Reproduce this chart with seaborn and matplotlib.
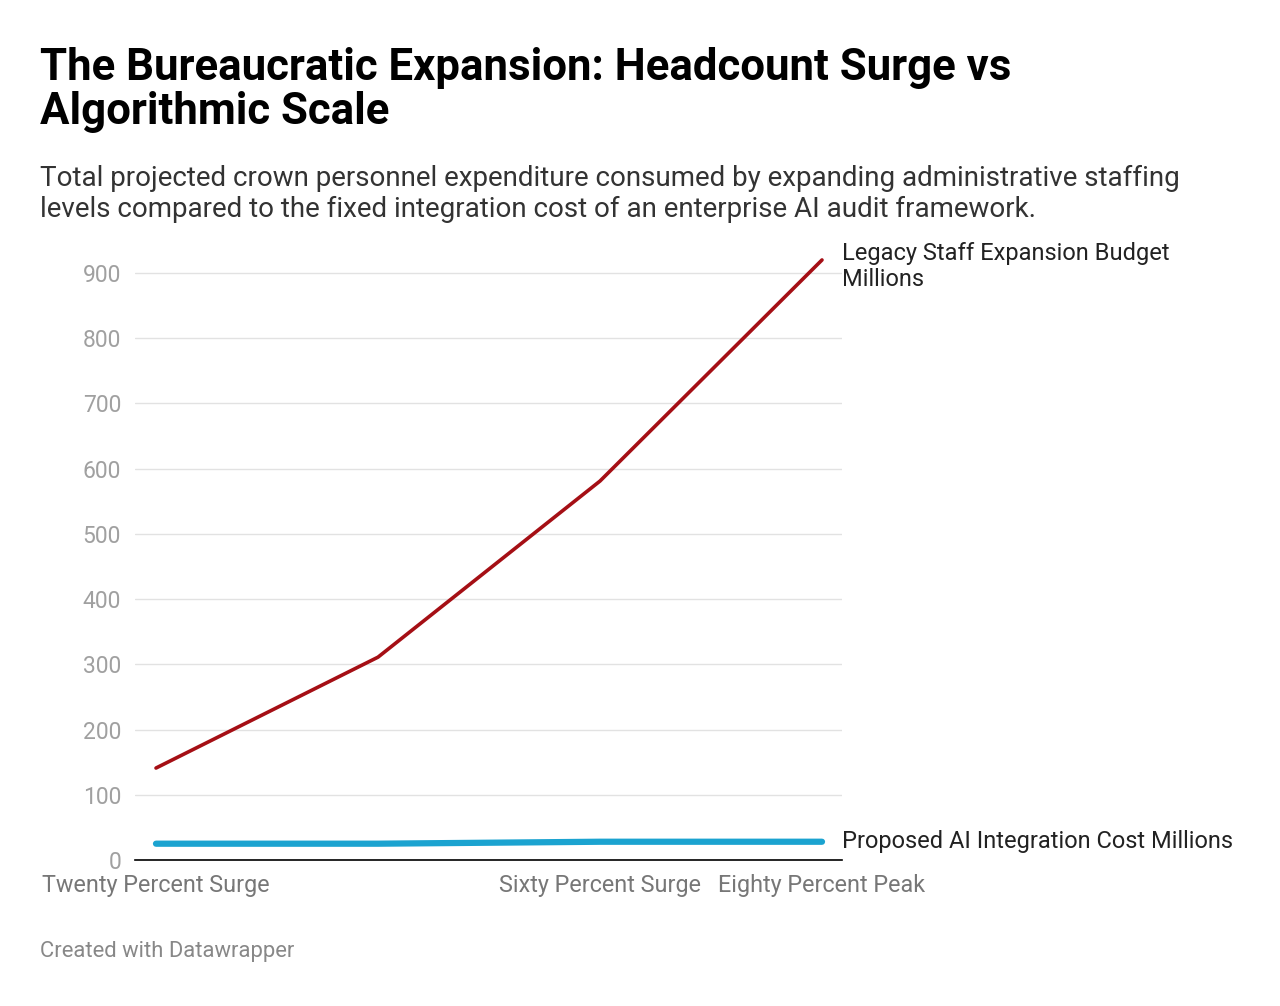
import matplotlib
matplotlib.use("Agg")
import matplotlib.pyplot as plt
import seaborn as sns
import pandas as pd

categories = ["Twenty Percent Surge", "Forty Percent Surge", "Sixty Percent Surge", "Eighty Percent Peak"]
legacy = [141, 311, 581, 920]
ai_cost = [25, 25, 28, 28]
tick_labels = ["Twenty Percent Surge", "", "Sixty Percent Surge", "Eighty Percent Peak"]

sns.set_style("white")
plt.rcParams['font.family'] = ['Roboto', 'DejaVu Sans']

df = pd.DataFrame({"x": list(range(4)) * 2,
                   "value": legacy + ai_cost,
                   "series": ["Legacy"] * 4 + ["AI"] * 4})

fig = plt.figure(figsize=(12.8, 10.06), dpi=100)
ax = fig.add_axes([135/1280, 1-860/1006, (842-135)/1280, (860-250)/1006])
sns.lineplot(data=df[df.series == "Legacy"], x="x", y="value", color="#a50f15", lw=2.6, ax=ax)
sns.lineplot(data=df[df.series == "AI"], x="x", y="value", color="#1ba3d0", lw=4.5, ax=ax)

ax.set_xlim(-21/222, 3 + 20/222)
ax.set_ylim(0, 900 * 610 / 587)
ax.set_yticks(range(0, 1000, 100))
ax.set_yticklabels([str(v) for v in range(0, 1000, 100)], color="#a0a0a0", fontsize=16.5)
ax.yaxis.grid(True, color="#e2e2e2", lw=1)
ax.tick_params(axis="y", length=0, pad=10)
ax.set_xticks(range(4))
ax.set_xticklabels(tick_labels, color="#777777", fontsize=16.8)
ax.tick_params(axis="x", length=0, pad=10)
ax.set_xlabel("")
ax.set_ylabel("")
for s in ["top", "right", "left"]:
    ax.spines[s].set_visible(False)
ax.spines["bottom"].set_color("black")
ax.spines["bottom"].set_linewidth(1.2)
ax.set_axisbelow(True)

ax.text(1.0, legacy[-1] + 27, "Legacy Staff Expansion Budget\nMillions",
        transform=ax.get_yaxis_transform(), ha="left", va="top", fontsize=17, color="#222222",
        linespacing=1.15)
ax.text(1.0, ai_cost[-1], "Proposed AI Integration Cost Millions",
        transform=ax.get_yaxis_transform(), ha="left", va="center", fontsize=17, color="#222222")

fig.text(40/1280, 1-90/1006, "The Bureaucratic Expansion: Headcount Surge vs\nAlgorithmic Scale",
         fontsize=31.5, fontweight="bold", va="center", ha="left", color="black", linespacing=1.05)
fig.text(40/1280, 1-194/1006,
         "Total projected crown personnel expenditure consumed by expanding administrative staffing\n"
         "levels compared to the fixed integration cost of an enterprise AI audit framework.",
         fontsize=20, va="center", ha="left", color="#333333", linespacing=1.15)
fig.text(40/1280, 1-952/1006, "Created with Datawrapper", fontsize=15.8, color="#888888", va="center")

fig.savefig("out.png", dpi=100)
